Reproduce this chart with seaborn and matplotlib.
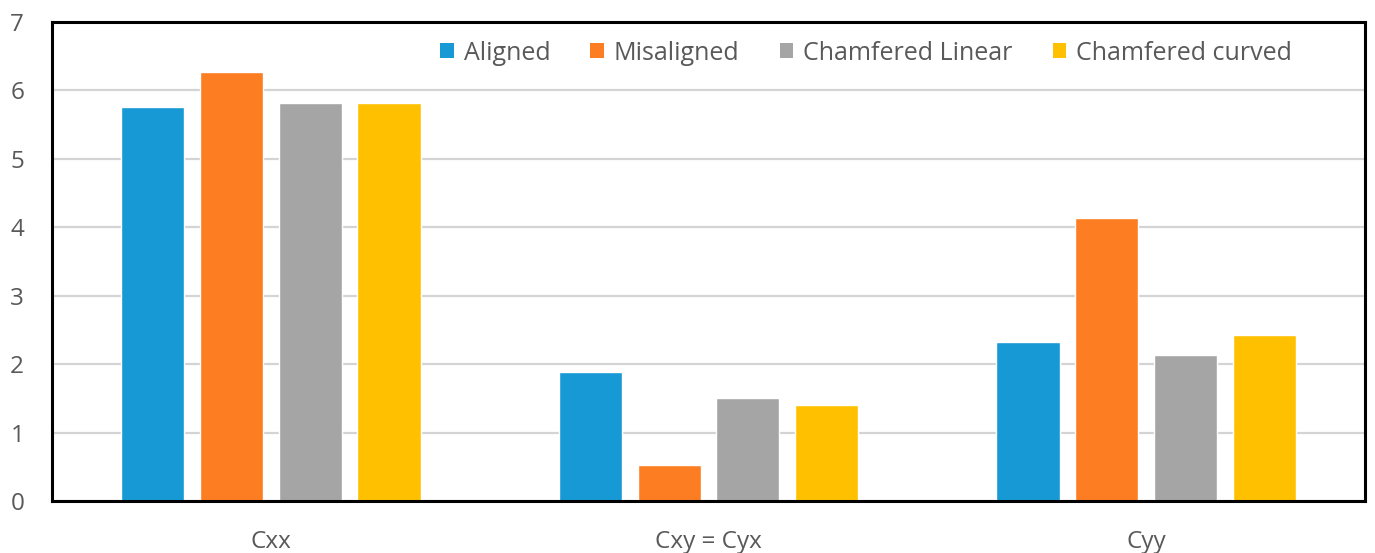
import matplotlib
matplotlib.use("Agg")
import matplotlib.pyplot as plt
from matplotlib.patches import Patch
import seaborn as sns
import pandas as pd

# Damping coefficients per configuration
categories = ["Cxx", "Cxy = Cyx", "Cyy"]
series_names = ["Aligned", "Misaligned", "Chamfered Linear", "Chamfered curved"]
aligned = [5.76, 1.88, 2.33]
misaligned = [6.27, 0.52, 4.14]
chamfered_linear = [5.82, 1.51, 2.13]
chamfered_curved = [5.82, 1.41, 2.42]
y_ticks = [0, 1, 2, 3, 4, 5, 6, 7]

colors = ["#1799D5", "#FD7E22", "#A5A5A5", "#FFC000"]

rows = []
for name, vals in zip(series_names,
                      [aligned, misaligned, chamfered_linear, chamfered_curved]):
    for cat, v in zip(categories, vals):
        rows.append({"category": cat, "series": name, "value": v})
df = pd.DataFrame(rows)

sns.set_theme(style="white")
plt.rcParams["font.family"] = ["Open Sans", "DejaVu Sans"]

fig = plt.figure(figsize=(13.75, 5.53), dpi=100)
ax = fig.add_axes([52 / 1375, 52 / 553, (1365 - 52) / 1375, (501 - 22) / 553])

sns.barplot(data=df, x="category", y="value", hue="series",
            order=categories, hue_order=series_names,
            palette=colors, width=0.72, gap=0.2, saturation=1,
            errorbar=None, legend=False, ax=ax)

ax.set_xlim(-0.5, 2.5)
ax.set_ylim(0, 7)
ax.set_yticks(y_ticks)
ax.set_yticklabels([str(t) for t in y_ticks])
ax.yaxis.grid(True, color="#D4D4D4", linewidth=1.6)
ax.set_axisbelow(True)
ax.set_xlabel("")
ax.set_ylabel("")

for side in ["top", "bottom", "left", "right"]:
    ax.spines[side].set_visible(True)
    ax.spines[side].set_color("black")
    ax.spines[side].set_linewidth(2.2)

ax.tick_params(axis="both", length=0, labelsize=17.5, labelcolor="#595959")
ax.tick_params(axis="x", pad=21)
ax.tick_params(axis="y", pad=20)

handles = [Patch(facecolor=c, edgecolor="none") for c in colors]
ax.legend(handles, series_names, loc="center", bbox_to_anchor=(0.62, 0.935),
          ncol=4, frameon=False, fontsize=18, labelcolor="#595959",
          handlelength=0.55, handleheight=0.55, handletextpad=0.4,
          columnspacing=1.6)

fig.savefig("out.png", dpi=100)
